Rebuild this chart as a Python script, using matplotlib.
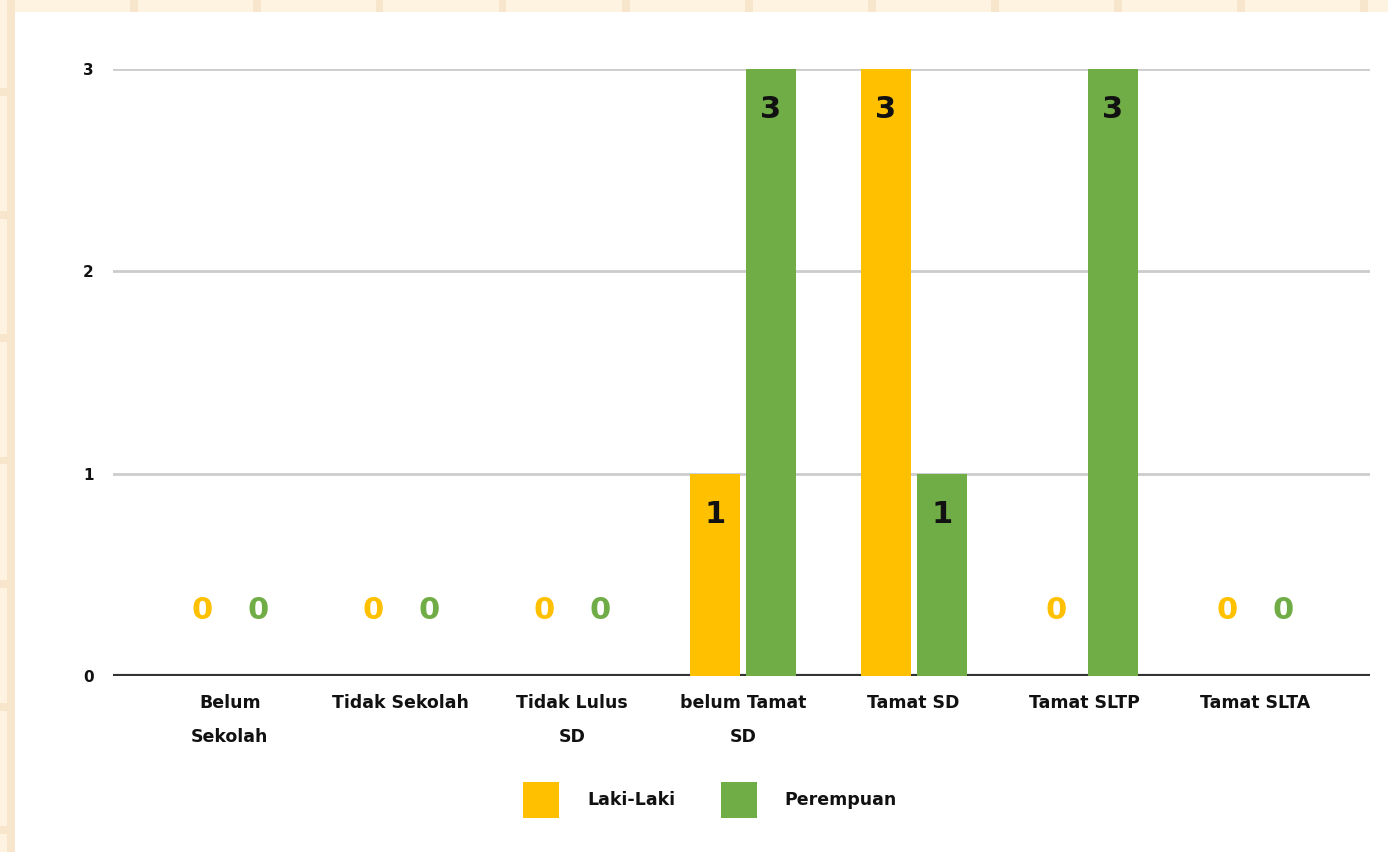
import matplotlib
matplotlib.use("Agg")
import matplotlib.pyplot as plt
from matplotlib.patches import Rectangle
import numpy as np

categories = ["Belum\nSekolah", "Tidak Sekolah", "Tidak Lulus\nSD", "belum Tamat\nSD",
              "Tamat SD", "Tamat SLTP", "Tamat SLTA"]
laki = [0, 0, 0, 1, 3, 0, 0]
perempuan = [0, 0, 0, 3, 1, 3, 0]
series_names = ["Laki-Laki", "Perempuan"]
colors = ["#FFC000", "#70AD47"]
yticks = [0, 1, 2, 3]

W, H = 1388, 852
fig = plt.figure(figsize=(W / 100, H / 100), dpi=100)
fig.patch.set_facecolor("#FEF3E0")

# decorative background stripes
for xs in range(7, W, 123):
    fig.patches.append(Rectangle((xs / W, 0), 7.5 / W, 1, transform=fig.transFigure,
                                 facecolor="#F8E6CC", edgecolor="none", zorder=-3))
for ys in range(88, H, 123):
    fig.patches.append(Rectangle((0, 1 - (ys + 7.5) / H), 1, 7.5 / H, transform=fig.transFigure,
                                 facecolor="#F8E6CC", edgecolor="none", zorder=-3))
fig.patches.append(Rectangle((15 / W, 0), 1, 1 - 12 / H, transform=fig.transFigure,
                             facecolor="white", edgecolor="none", zorder=-2))

ax = fig.add_axes([113 / W, 1 - 676 / H, (1370 - 113) / W, (676 - 69) / H])
ax.set_facecolor("none")
x = np.arange(len(categories))
bw = 0.292
off = 0.164
for vals, sign, col in [(laki, -1, colors[0]), (perempuan, 1, colors[1])]:
    bars = ax.bar(x + sign * off, vals, width=bw, color=col, zorder=3, clip_on=False)
    for xi, v in zip(x, vals):
        if v > 0:
            ax.annotate(str(v), (xi + sign * off, v), xytext=(0, -29.5), textcoords="offset points",
                        ha="center", va="center", fontsize=22, fontweight="bold", color="#111111",
                        zorder=4)
        else:
            ax.annotate("0", (xi + sign * off, 0), xytext=(0, 47.5), textcoords="offset points",
                        ha="center", va="center", fontsize=22, fontweight="bold", color=col,
                        zorder=4)

ax.set_xlim(-0.684, 6.67)
ax.set_ylim(0, 3)
ax.set_yticks(yticks)
ax.set_yticklabels([str(t) for t in yticks], fontsize=11, fontweight="bold", color="#111111")
ax.yaxis.grid(True, color="#CCCCCC", linewidth=2, zorder=1)
ax.axhline(0, color="#333333", linewidth=3, zorder=2)
ax.set_xticks(x)
ax.set_xticklabels(categories, fontsize=12.5, fontweight="bold", color="#111111", linespacing=2.15,
                   va="top")
ax.tick_params(axis="both", length=0)
ax.tick_params(axis="x", pad=13)
ax.tick_params(axis="y", pad=14)
for s in ax.spines.values():
    s.set_visible(False)

# legend
handles = [Rectangle((0, 0), 1, 1, facecolor=c, edgecolor="none") for c in colors]
leg = fig.legend(handles, series_names, loc="center", bbox_to_anchor=(710 / W, 1 - 800 / H),
                 ncol=2, frameon=False, prop={"size": 12.5, "weight": "bold"},
                 handlelength=2.1, handleheight=2.8, handletextpad=1.6, columnspacing=2.6)
for t in leg.get_texts():
    t.set_color("#111111")

fig.savefig("out.png", dpi=100, facecolor=fig.get_facecolor())
